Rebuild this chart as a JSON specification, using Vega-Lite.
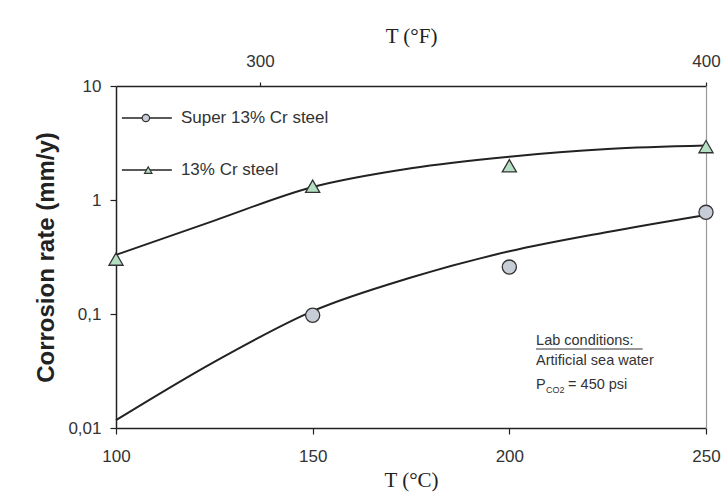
{
  "$schema": "https://vega.github.io/schema/vega-lite/v6.json",
  "width": 590,
  "height": 342,
  "autosize": {"type": "none"},
  "padding": {"left": 116, "top": 86, "right": 22, "bottom": 76},
  "background": "white",
  "config": {
    "view": {"stroke": null},
    "font": "Liberation Sans",
    "axis": {
      "labelFont": "Liberation Sans",
      "labelFontSize": 17,
      "labelColor": "#333",
      "labelFlush": false,
      "domainColor": "#222",
      "domainWidth": 1.5,
      "tickColor": "#222",
      "tickWidth": 1.2,
      "grid": false
    }
  },
  "datasets": {
    "curves": [
      {"T": 100, "rate": 0.0117, "series": "Super 13% Cr steel"},
      {"T": 125, "rate": 0.038, "series": "Super 13% Cr steel"},
      {"T": 150, "rate": 0.106, "series": "Super 13% Cr steel"},
      {"T": 175, "rate": 0.209, "series": "Super 13% Cr steel"},
      {"T": 200, "rate": 0.355, "series": "Super 13% Cr steel"},
      {"T": 225, "rate": 0.525, "series": "Super 13% Cr steel"},
      {"T": 250, "rate": 0.74, "series": "Super 13% Cr steel"},
      {"T": 100, "rate": 0.33, "series": "13% Cr steel"},
      {"T": 125, "rate": 0.66, "series": "13% Cr steel"},
      {"T": 150, "rate": 1.3, "series": "13% Cr steel"},
      {"T": 175, "rate": 1.9, "series": "13% Cr steel"},
      {"T": 200, "rate": 2.4, "series": "13% Cr steel"},
      {"T": 225, "rate": 2.8, "series": "13% Cr steel"},
      {"T": 250, "rate": 3.0, "series": "13% Cr steel"}
    ],
    "points": [
      {"T": 150, "rate": 0.0975, "series": "Super 13% Cr steel"},
      {"T": 200, "rate": 0.258, "series": "Super 13% Cr steel"},
      {"T": 250, "rate": 0.78, "series": "Super 13% Cr steel"},
      {"T": 100, "rate": 0.303, "series": "13% Cr steel"},
      {"T": 150, "rate": 1.32, "series": "13% Cr steel"},
      {"T": 200, "rate": 2.0, "series": "13% Cr steel"},
      {"T": 250, "rate": 2.94, "series": "13% Cr steel"}
    ],
    "legend": [
      {"series": "Super 13% Cr steel", "T": 101.5, "T2": 114.2, "Tm": 107.6, "Tl": 116.5, "rate": 5.24},
      {"series": "13% Cr steel", "T": 101.5, "T2": 114.2, "Tm": 108.2, "Tl": 116.5, "rate": 1.83}
    ],
    "notes": [
      {"T": 206.8, "rate": 0.058, "text": "Lab conditions:"},
      {"T": 206.8, "rate": 0.0389, "text": "Artificial sea water"},
      {"T": 206.8, "rate": 0.0239, "text": "P"}
    ],
    "underline": [
      {"T": 206.8, "T2": 233.9, "rate": 0.0493}
    ],
    "sub": [
      {"T": 206.8, "rate": 0.0239, "text": "CO2"}
    ],
    "eq": [
      {"T": 206.8, "rate": 0.0239, "text": "=  450 psi"}
    ]
  },
  "resolve": {
    "axis": {"x": "independent", "y": "independent"}
  },
  "layer": [
    {
      "data": {"name": "curves"},
      "mark": {"type": "line", "interpolate": "monotone", "color": "#222", "strokeWidth": 2},
      "encoding": {
        "x": {
          "field": "T", "type": "quantitative",
          "scale": {"domain": [100, 250], "nice": false, "zero": false},
          "axis": {
            "orient": "bottom", "values": [100, 150, 200, 250], "tickSize": 6,
            "labelPadding": 14, "title": "T (°C)", "titleFont": "Liberation Serif",
            "titleFontSize": 21, "titleFontWeight": "normal", "titleColor": "#222",
            "titlePadding": 5
          }
        },
        "y": {
          "field": "rate", "type": "quantitative",
          "scale": {"type": "log", "domain": [0.01, 10], "nice": false},
          "axis": {
            "orient": "left", "values": [0.01, 0.1, 1, 10], "tickSize": 6,
            "labelPadding": 9, "labelExpr": "replace(format(datum.value, '~g'), '.', ',')",
            "title": "Corrosion rate (mm/y)", "titleFont": "Liberation Sans",
            "titleFontSize": 24, "titleFontWeight": "bold", "titleColor": "#222",
            "titlePadding": 9
          }
        },
        "detail": {"field": "series", "type": "nominal"}
      }
    },
    {
      "data": {"name": "points"},
      "mark": {"type": "point", "filled": true, "opacity": 1, "stroke": "#333", "strokeWidth": 1.3, "size": 200},
      "encoding": {
        "x": {
          "field": "T", "type": "quantitative",
          "axis": {
            "orient": "top", "values": [136.6, 250], "tickSize": 4, "labelPadding": 12,
            "labelExpr": "datum.value < 200 ? '300' : '400'",
            "title": "T (°F)", "titleFont": "Liberation Serif", "titleFontSize": 21,
            "titleFontWeight": "normal", "titleColor": "#222", "titlePadding": 6
          }
        },
        "y": {
          "field": "rate", "type": "quantitative",
          "axis": {
            "orient": "right", "ticks": false, "labels": false, "title": null,
            "domainColor": "#999", "domainWidth": 1.2
          }
        },
        "shape": {
          "field": "series", "type": "nominal",
          "scale": {"domain": ["Super 13% Cr steel", "13% Cr steel"], "range": ["circle", "triangle-up"]},
          "legend": null
        },
        "fill": {
          "field": "series", "type": "nominal",
          "scale": {"domain": ["Super 13% Cr steel", "13% Cr steel"], "range": ["#c8ccd6", "#b5dfc3"]},
          "legend": null
        }
      }
    },
    {
      "data": {"name": "legend"},
      "mark": {"type": "rule", "color": "#222", "strokeWidth": 1.5},
      "encoding": {
        "x": {"field": "T", "type": "quantitative", "axis": null},
        "x2": {"field": "T2"},
        "y": {"field": "rate", "type": "quantitative", "axis": null}
      }
    },
    {
      "data": {"name": "legend"},
      "mark": {"type": "point", "filled": true, "opacity": 1, "stroke": "#333", "strokeWidth": 1.2, "size": 55},
      "encoding": {
        "x": {"field": "Tm", "type": "quantitative", "axis": null},
        "y": {"field": "rate", "type": "quantitative", "axis": null},
        "shape": {"field": "series", "type": "nominal", "legend": null},
        "fill": {"field": "series", "type": "nominal", "legend": null}
      }
    },
    {
      "data": {"name": "legend"},
      "mark": {"type": "text", "align": "left", "baseline": "middle", "fontSize": 17, "font": "Liberation Sans", "color": "#333"},
      "encoding": {
        "x": {"field": "Tl", "type": "quantitative", "axis": null},
        "y": {"field": "rate", "type": "quantitative", "axis": null},
        "text": {"field": "series"}
      }
    },
    {
      "data": {"name": "notes"},
      "mark": {"type": "text", "align": "left", "baseline": "middle", "fontSize": 14.5, "font": "Liberation Sans", "color": "#333"},
      "encoding": {
        "x": {"field": "T", "type": "quantitative", "axis": null},
        "y": {"field": "rate", "type": "quantitative", "axis": null},
        "text": {"field": "text"}
      }
    },
    {
      "data": {"name": "sub"},
      "mark": {"type": "text", "align": "left", "baseline": "middle", "fontSize": 9, "font": "Liberation Sans", "color": "#333", "dx": 10, "dy": 5},
      "encoding": {
        "x": {"field": "T", "type": "quantitative", "axis": null},
        "y": {"field": "rate", "type": "quantitative", "axis": null},
        "text": {"field": "text"}
      }
    },
    {
      "data": {"name": "eq"},
      "mark": {"type": "text", "align": "left", "baseline": "middle", "fontSize": 14.5, "font": "Liberation Sans", "color": "#333", "dx": 32},
      "encoding": {
        "x": {"field": "T", "type": "quantitative", "axis": null},
        "y": {"field": "rate", "type": "quantitative", "axis": null},
        "text": {"field": "text"}
      }
    },
    {
      "data": {"name": "underline"},
      "mark": {"type": "rule", "color": "#333", "strokeWidth": 1},
      "encoding": {
        "x": {"field": "T", "type": "quantitative", "axis": null},
        "x2": {"field": "T2"},
        "y": {"field": "rate", "type": "quantitative", "axis": null}
      }
    }
  ]
}
